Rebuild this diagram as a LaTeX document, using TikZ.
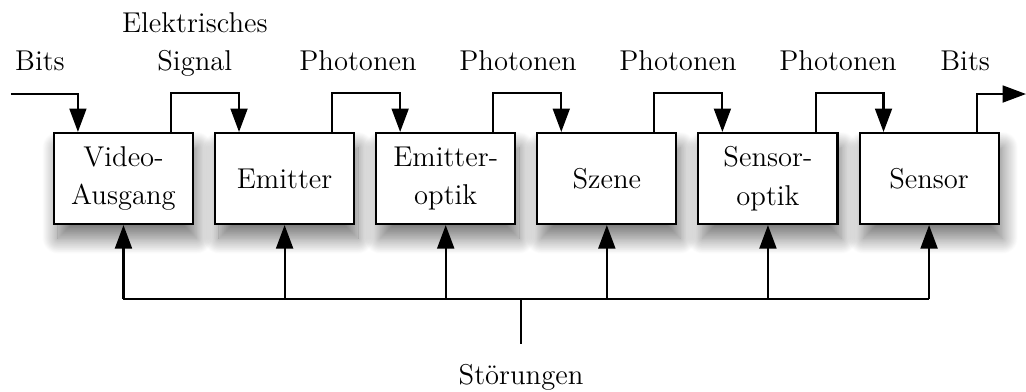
\documentclass[tikz,border=0pt]{standalone}
\usepackage{tikz}
\usetikzlibrary{positioning,arrows.meta,shadows.blur}

\tikzset{
  block/.style={draw, thick, fill=white, minimum width=1.877cm,
    minimum height=1.229cm, align=center, inner sep=2pt,
    blur shadow={shadow xshift=1.5pt, shadow yshift=-5.5pt,
      shadow blur radius=6pt, shadow blur steps=24, shadow opacity=55}},
  sig/.style={thick, -{Triangle[width=6.5pt,length=9pt]}},
  lbl/.style={align=center, anchor=base},
}

\begin{document}
\begin{tikzpicture}[node distance=0.9cm and 0.27cm,
    font=\fontsize{11}{14.8}\selectfont]
  \useasboundingbox (0,0) rectangle (13.851,-5.2785);
%
    % the chain of blocks
    \node[block] (vid) at (1.667,-2.410) {Video-\\Ausgang};
    \node[block, right=of vid] (emi) {Emitter};
    \node[block, right=of emi] (eop) {Emitter-\\optik};
    \node[block, right=of eop] (sze) {Szene};
    \node[block, right=of sze] (sop) {Sensor-\\optik};
    \node[block, right=of sop] (sen) {Sensor};
%
    % signal path along the top
    \coordinate (in)  at (0.1485,-1.269);
    \coordinate (out) at (13.851,-1.269);
    \draw[sig] (in) -| ([xshift=0.3375cm]vid.north west);
    \draw[sig] ([xshift=-0.31cm]vid.north east) -- ++(0,0.527) -| ([xshift=0.3375cm]emi.north west);
    \draw[sig] ([xshift=-0.31cm]emi.north east) -- ++(0,0.527) -| ([xshift=0.3375cm]eop.north west);
    \draw[sig] ([xshift=-0.31cm]eop.north east) -- ++(0,0.527) -| ([xshift=0.3375cm]sze.north west);
    \draw[sig] ([xshift=-0.31cm]sze.north east) -- ++(0,0.527) -| ([xshift=0.3375cm]sop.north west);
    \draw[sig] ([xshift=-0.31cm]sop.north east) -- ++(0,0.527) -| ([xshift=0.3375cm]sen.north west);
    \draw[sig] ([xshift=-0.31cm]sen.north east) |- (out);
%
    \node[lbl] (bitsin)  at (0.54,-0.954)  {Bits};
    \node[lbl] (elsig)   at (2.63,-0.954)  {Elektrisches\\Signal};
    \foreach \x [count=\i] in {4.833,6.993,9.153,11.313}
      \node[lbl] (ph\i) at (\x,-0.954) {Photonen};
    \node[lbl] (bitsout) at (13.03,-0.954) {Bits};
%
    % disturbances from below
    \coordinate (bus)  at (0,-4.0365);
    \coordinate (mid)  at (7.034,-4.0365);
    \coordinate (stub) at (7.034,-4.644);
    \draw[thick] (vid |- bus) -- (sen |- bus);
    \foreach \b in {vid,emi,eop,sze,sop,sen}
      \draw[sig] (\b |- bus) -- (\b.south);
    \draw[thick] (mid) -- (stub);
    \node[anchor=north] (stoer) at (7.034,-4.79) {Störungen};
%
  \end{tikzpicture}
\end{document}
